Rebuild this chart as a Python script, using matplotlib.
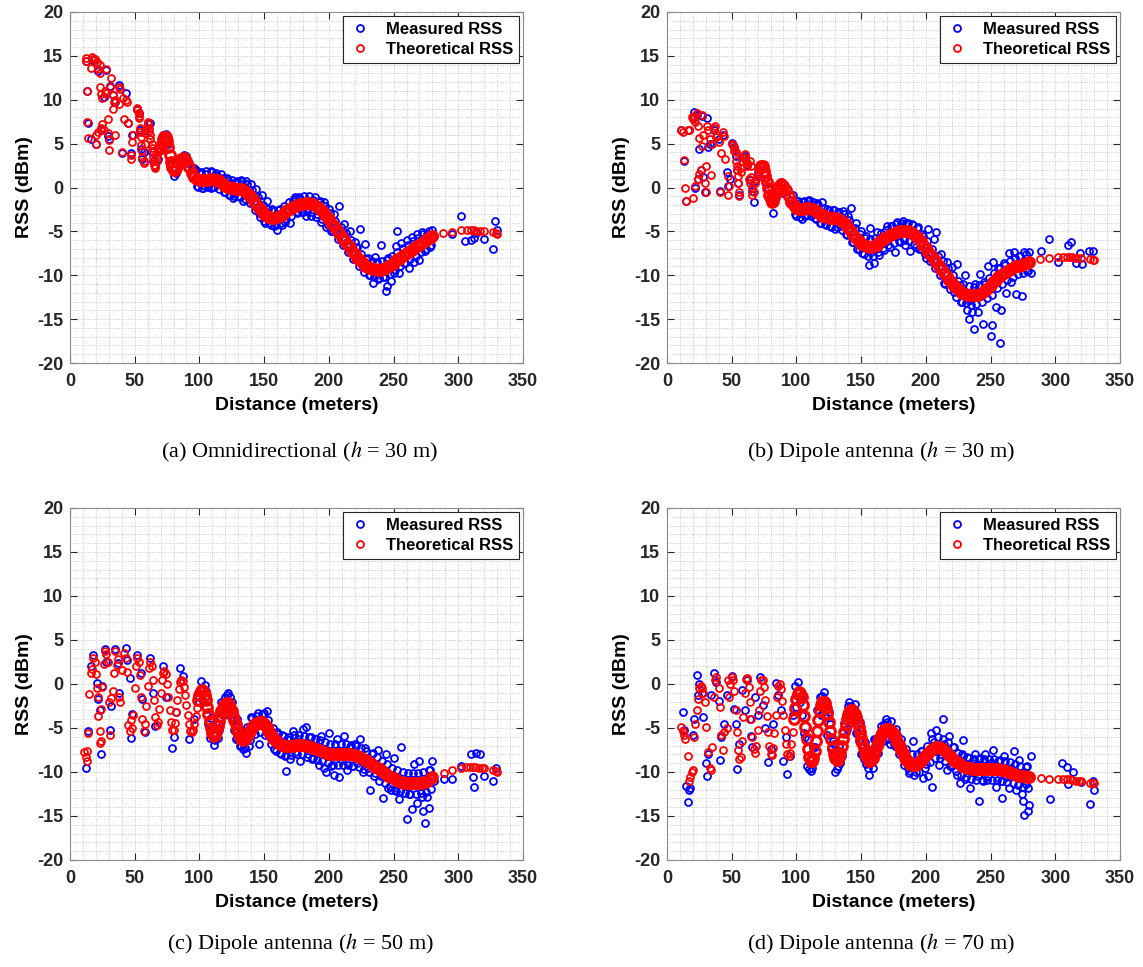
import matplotlib
matplotlib.use("Agg")
import matplotlib.pyplot as plt

plt.rcParams['font.family'] = ['Liberation Sans', 'DejaVu Sans']
plt.rcParams['mathtext.fontset'] = 'stix'
plt.rcParams['axes.unicode_minus'] = False

# ---------------- data ----------------
# (a) Omnidirectional, h = 30 m
a_theo_early = [(12, 14.8), (12, 14.4), (13, 11.0), (13, 7.5), (14, 5.6), (16, 13.6), (17, 14.9), (18, 14.6),
                (19, 14.6), (20, 5.0), (20, 6.0), (21, 14.3), (22, 13.5), (22, 6.3), (23, 14.0), (23, 13.0),
                (23, 11.5), (24, 6.8), (24, 10.7), (25, 7.2), (25, 10.2), (26, 6.5), (27, 11.0), (28, 13.5),
                (28, 10.8), (29, 7.8), (29, 6.2), (30, 4.3), (30, 5.4), (31, 11.5), (32, 12.5), (33, 9.0),
                (33, 10.5), (34, 9.8), (35, 6.0), (35, 10.0), (38, 11.5), (38, 9.5), (39, 11.2), (40, 4.0),
                (41, 10.2), (42, 7.8), (43, 10.0), (44, 9.8), (45, 7.4), (47, 3.3), (47, 3.7), (48, 5.2),
                (49, 6.0), (52, 9.1), (52, 8.8), (53, 8.5), (53, 8.2), (53, 7.9), (54, 6.8), (54, 6.3),
                (55, 5.8), (55, 4.8), (56, 4.2), (56, 3.5), (57, 3.0), (57, 2.8), (58, 5.0), (58, 6.2),
                (59, 6.7), (60, 7.5), (60, 7.2), (61, 6.8), (61, 6.4), (62, 6.0), (62, 5.5), (63, 5.0),
                (63, 4.5), (64, 4.0), (64, 3.5), (65, 3.0), (65, 2.6), (66, 2.4), (66, 2.2), (67, 3.0),
                (67, 3.5), (68, 4.0), (68, 4.5), (69, 4.2)]
a_theo_band = [(70, 4.5), (71, 5.0), (72, 5.5), (73, 5.8), (74, 5.8), (75, 5.3), (76, 4.6), (77, 3.7), (78, 2.9),
               (79, 2.3), (80, 2.0), (81, 2.0), (82, 2.2), (84, 2.8), (86, 3.2), (88, 3.4), (90, 3.0), (92, 2.3),
               (94, 1.7), (96, 1.2), (98, 1.0), (100, 0.9), (102, 0.8), (104, 0.85), (106, 0.9), (108, 1.0),
               (110, 1.0), (112, 0.9), (114, 0.8), (116, 0.6), (118, 0.4), (120, 0.2), (122, 0.1), (124, 0.0),
               (126, -0.1), (128, -0.2), (130, -0.2), (132, -0.2), (134, -0.3), (136, -0.5), (138, -0.8),
               (140, -1.1), (142, -1.5), (144, -1.9), (146, -2.3), (148, -2.7), (150, -3.0), (152, -3.2),
               (154, -3.4), (156, -3.5), (158, -3.5), (160, -3.4), (162, -3.3), (164, -3.1), (166, -2.8),
               (168, -2.6), (170, -2.4), (172, -2.2), (174, -2.1), (176, -2.0), (178, -1.9), (180, -1.9),
               (182, -1.8), (184, -1.8), (186, -1.9), (188, -1.9), (190, -2.1), (192, -2.3), (194, -2.6),
               (196, -2.9), (198, -3.2), (200, -3.6), (202, -4.0), (204, -4.4), (206, -4.8), (208, -5.2),
               (210, -5.6), (212, -6.0), (214, -6.4), (216, -6.8), (218, -7.2), (220, -7.6), (222, -8.0),
               (224, -8.3), (226, -8.6), (228, -8.9), (230, -9.05), (232, -9.15), (234, -9.25), (236, -9.3),
               (238, -9.35), (240, -9.35), (242, -9.3), (244, -9.2), (246, -9.0), (248, -8.8), (250, -8.6),
               (252, -8.3), (254, -8.1), (256, -7.9), (258, -7.7), (260, -7.5), (262, -7.3), (264, -7.1),
               (266, -6.9), (268, -6.7), (270, -6.5), (272, -6.3), (274, -6.1), (276, -5.9), (278, -5.7),
               (280, -5.5)]
a_theo_tail = [(288, -5.2), (295, -5.1), (302, -4.9), (307, -4.9), (310, -4.9), (312, -4.9), (314, -5.0),
               (317, -5.0), (320, -5.0), (327, -5.1), (329, -5.2), (330, -5.3)]
a_meas = [(12, 14.4), (13, 11.0), (14, 7.4), (16, 5.5), (18, 14.5), (20, 5.0), (22, 13.3), (24, 6.5), (26, 10.3),
          (28, 13.4), (29, 5.9), (30, 5.5), (31, 11.6), (33, 10.5), (35, 9.8), (38, 11.7), (40, 3.9), (43, 10.8),
          (45, 7.3), (47, 3.9), (48, 6.0), (52, 9.0), (53, 8.5), (54, 6.5), (55, 4.4), (56, 3.3), (57, 4.0),
          (58, 6.5), (60, 7.3), (62, 7.4), (63, 4.0), (64, 3.0), (66, 2.5), (68, 3.3), (70, 5.0), (72, 6.0),
          (74, 6.1), (76, 5.0), (78, 2.7), (80, 1.3), (82, 1.6), (84, 2.5), (88, 3.7), (90, 3.6), (92, 2.8),
          (94, 2.2), (96, 2.2), (98, 0.2), (100, 1.7), (102, 0.0), (104, 0.2), (105, 1.5), (107, 0.3), (109, 0.0),
          (110, 1.8), (112, 1.4), (114, 1.2), (116, 0.5), (118, 1.1), (120, -0.5), (122, 0.8), (124, -0.9),
          (126, -1.2), (128, 0.6), (130, -1.0), (132, 0.9), (134, -1.5), (136, 0.7), (138, -1.3), (140, 0.4),
          (142, -1.8), (144, -0.2), (146, -2.9), (148, -0.9), (150, -3.8), (152, -1.5), (154, -4.0), (156, -2.4),
          (158, -4.4), (160, -4.8), (162, -2.5), (164, -4.3), (166, -3.9), (168, -2.7), (170, -4.1), (172, -1.5),
          (174, -1.1), (176, -2.8), (178, -1.3), (180, -2.8), (182, -3.2), (184, -1.5), (186, -3.3), (188, -1.4),
          (190, -3.4), (192, -1.6), (194, -3.9), (196, -1.7), (198, -4.5), (200, -2.5), (202, -5.0), (204, -3.0),
          (206, -4.5), (208, -2.1), (210, -5.2), (212, -4.2), (214, -6.4), (216, -5.0), (218, -7.5), (220, -6.2),
          (222, -6.8), (224, -4.7), (226, -8.5), (228, -6.4), (230, -8.0), (232, -10.0), (234, -10.9), (236, -7.9),
          (238, -10.4), (240, -6.6), (242, -10.2), (244, -11.8), (245, -11.2), (246, -8.0), (248, -10.7),
          (250, -9.7), (252, -6.7), (253, -5.0), (254, -9.7), (256, -6.3), (258, -8.6), (260, -6.0), (262, -9.2),
          (264, -5.6), (266, -8.5), (268, -5.3), (270, -8.3), (272, -5.1), (274, -7.2), (276, -5.3), (278, -6.8),
          (280, -4.8), (281, -5.5), (295, -5.3), (302, -3.3), (305, -6.1), (310, -6.0), (312, -5.7), (314, -5.2),
          (320, -5.9), (327, -7.0), (328, -3.8), (330, -4.8)]
a_meas_near = [(97, 2.0), (99, 0.1), (101, 1.8), (103, 0.0), (105, 1.9), (107, 0.1), (109, 1.9), (111, 0.1),
               (113, 1.7), (115, -0.2), (117, 1.5), (119, -0.5), (121, 1.1), (123, -0.8), (125, 0.9), (127, -1.0),
               (129, 0.7), (131, -1.1), (133, 0.7), (135, -1.3), (137, 0.4), (139, -1.8), (141, -0.3), (143, -2.6),
               (145, -1.1), (147, -3.4), (149, -2.0), (151, -4.0), (153, -2.4), (155, -4.3), (157, -2.7),
               (159, -4.3), (161, -2.6), (163, -4.1), (165, -2.1), (167, -3.6), (169, -1.6), (171, -3.2),
               (173, -1.3), (175, -2.9), (177, -1.1), (179, -2.8), (181, -1.0), (183, -2.7), (185, -1.0),
               (187, -2.8), (189, -1.1), (191, -3.0), (193, -1.5), (195, -3.6), (197, -2.1), (199, -4.3),
               (201, -2.9), (203, -5.0), (205, -3.8), (207, -5.9), (209, -4.5), (211, -6.6), (213, -5.2),
               (215, -7.4), (217, -6.0), (219, -8.2), (221, -6.8), (223, -9.0), (225, -7.6), (227, -9.6),
               (229, -8.1), (231, -10.0), (233, -8.4), (235, -10.2), (237, -8.5), (239, -10.3), (241, -8.4),
               (243, -10.2), (245, -8.3), (247, -9.9), (249, -7.8), (251, -9.4), (253, -7.3), (255, -8.9),
               (257, -6.9), (259, -8.6), (261, -6.5), (263, -8.2), (265, -6.1), (267, -7.8), (269, -5.7),
               (271, -7.4), (273, -5.3), (275, -7.0), (277, -5.0), (279, -6.5)]

# (b) Dipole antenna, h = 30 m
b_theo_early = [(11, 6.6), (12, 6.3), (13, 3.1), (14, 0.0), (15, -1.5), (16, 6.5), (17, 6.6), (19, 8.0), (20, 7.8),
                (20, -1.2), (21, 8.2), (22, 7.5), (22, 0.2), (23, 8.5), (24, 7.0), (24, 1.0), (25, 5.6), (25, 1.5),
                (26, 2.0), (27, 8.3), (27, 4.7), (28, 6.0), (29, 0.5), (30, 2.5), (30, -0.5), (31, 7.0), (32, 6.5),
                (33, 5.5), (34, 1.4), (35, 5.0), (36, 6.8), (37, 7.0), (38, 5.8), (39, 6.0), (40, 5.2), (41, -0.5),
                (42, 3.9), (43, 6.3), (44, 5.9), (45, 3.3), (47, 1.3), (47, -0.8), (48, 0.2), (50, 5.0), (51, 4.8),
                (52, 4.5), (52, 4.2), (53, 4.0), (53, 3.0), (54, 2.5), (54, 2.0), (55, 1.3), (55, 0.5), (56, -0.5),
                (56, -1.0), (57, 1.8), (57, 2.2), (58, 3.0), (59, 3.5), (60, 3.8), (60, 3.4), (61, 3.0), (62, 2.8),
                (62, 2.5), (63, 1.0), (64, 0.5), (64, 3.0), (65, 2.5), (65, 1.2), (66, 0.0), (66, -0.8), (67, -0.5),
                (68, 0.5), (69, 1.0), (70, 1.5), (71, 2.0)]
b_theo_band = [(72, 2.2), (73, 2.4), (74, 2.4), (75, 1.9), (76, 1.3), (77, 0.6), (78, -0.1), (79, -0.8), (80, -1.3),
               (81, -1.6), (82, -1.5), (83, -1.1), (84, -0.6), (85, -0.2), (86, 0.1), (88, 0.4), (90, 0.2),
               (92, -0.3), (94, -1.0), (96, -1.6), (98, -2.0), (100, -2.3), (102, -2.5), (104, -2.5), (106, -2.4),
               (108, -2.3), (110, -2.3), (112, -2.4), (114, -2.6), (116, -2.8), (118, -3.0), (120, -3.2),
               (122, -3.3), (124, -3.4), (126, -3.5), (128, -3.5), (130, -3.5), (132, -3.6), (134, -3.7),
               (136, -3.9), (138, -4.2), (140, -4.6), (142, -5.0), (144, -5.4), (146, -5.8), (148, -6.1),
               (150, -6.4), (152, -6.6), (154, -6.7), (156, -6.8), (158, -6.8), (160, -6.7), (162, -6.5),
               (164, -6.2), (166, -6.0), (168, -5.8), (170, -5.6), (172, -5.4), (174, -5.3), (176, -5.2),
               (178, -5.1), (180, -5.0), (182, -5.0), (184, -5.0), (186, -5.0), (188, -5.1), (190, -5.3),
               (192, -5.5), (194, -5.8), (196, -6.1), (198, -6.5), (200, -6.9), (202, -7.3), (204, -7.7),
               (206, -8.1), (208, -8.5), (210, -8.9), (212, -9.3), (214, -9.7), (216, -10.1), (218, -10.5),
               (220, -10.9), (222, -11.2), (224, -11.5), (226, -11.8), (228, -12.0), (230, -12.1), (232, -12.2),
               (234, -12.3), (236, -12.3), (238, -12.3), (240, -12.2), (242, -12.1), (244, -11.9), (246, -11.7),
               (248, -11.4), (250, -11.1), (252, -10.8), (254, -10.5), (256, -10.2), (258, -10.0), (260, -9.8),
               (262, -9.6), (264, -9.4), (266, -9.3), (268, -9.1), (270, -9.0), (272, -8.9), (274, -8.8),
               (276, -8.7), (278, -8.6), (280, -8.5)]
b_theo_tail = [(288, -8.2), (295, -8.0), (302, -7.9), (306, -7.9), (309, -7.9), (311, -7.9), (313, -7.9),
               (315, -8.0), (317, -8.0), (320, -8.0), (327, -8.2), (329, -8.3), (330, -8.3)]
b_meas = [(11, 6.5), (13, 3.0), (15, -1.5), (17, 6.5), (20, 7.9), (21, 8.6), (22, 0.0), (23, 8.3), (24, 1.0),
          (25, 4.4), (26, 2.0), (27, 8.2), (28, 1.2), (29, -0.5), (31, 7.9), (32, 4.6), (33, 5.0), (36, 6.6),
          (40, 5.5), (41, -0.4), (43, 6.0), (46, 1.8), (47, 0.2), (49, 1.0), (50, 5.1), (52, 4.6), (53, 3.6),
          (54, 2.0), (55, 0.5), (56, -0.9), (58, 3.5), (60, 3.6), (62, 2.6), (64, 0.8), (66, -0.4), (67, -1.7),
          (68, 0.7), (70, 1.8), (72, 2.5), (74, 2.6), (76, 1.5), (78, 0.0), (80, -1.7), (82, -2.9), (85, -0.4),
          (88, 0.6), (90, -0.6), (95, -1.4), (100, -3.3), (102, -1.8), (104, -3.6), (106, -1.5), (108, -3.1),
          (110, -1.4), (112, -2.0), (114, -3.5), (116, -1.8), (118, -4.0), (120, -1.6), (122, -4.2), (124, -2.4),
          (126, -4.4), (128, -2.6), (130, -4.7), (132, -2.8), (134, -4.4), (136, -2.7), (138, -5.3), (140, -3.2),
          (142, -2.3), (144, -6.2), (146, -4.0), (148, -7.0), (150, -5.0), (152, -7.6), (154, -5.5), (156, -8.8),
          (157, -4.6), (158, -7.3), (160, -8.6), (162, -5.1), (164, -7.7), (166, -5.6), (168, -7.1), (170, -4.4),
          (172, -6.8), (174, -4.4), (176, -7.4), (178, -3.9), (180, -6.2), (182, -3.8), (184, -6.6), (186, -4.1),
          (188, -7.2), (190, -4.3), (192, -6.8), (194, -4.5), (196, -7.0), (198, -5.5), (200, -8.0), (202, -4.7),
          (204, -7.6), (206, -5.9), (208, -5.1), (210, -9.1), (212, -7.6), (214, -10.9), (216, -8.5), (218, -10.8),
          (220, -9.1), (222, -11.9), (224, -8.7), (226, -11.1), (228, -13.1), (230, -10.0), (232, -14.0),
          (233, -15.0), (234, -12.8), (236, -14.2), (237, -16.1), (238, -11.0), (240, -14.2), (242, -9.9),
          (244, -15.5), (246, -11.0), (248, -9.0), (250, -16.9), (251, -15.7), (252, -8.5), (254, -13.6),
          (256, -9.2), (257, -17.7), (258, -14.0), (260, -8.6), (262, -12.0), (264, -7.5), (266, -10.8),
          (268, -7.3), (270, -12.1), (272, -7.8), (274, -12.4), (276, -7.3), (278, -9.5), (280, -7.4),
          (281, -9.8), (289, -7.2), (295, -5.9), (302, -8.5), (310, -6.6), (312, -6.2), (316, -8.6), (319, -7.5),
          (321, -8.7), (326, -7.2), (329, -7.2)]
b_meas_near = [(97, -0.8), (99, -3.0), (101, -1.5), (103, -3.4), (105, -1.6), (107, -3.3), (109, -1.5),
               (111, -3.2), (113, -1.6), (115, -3.6), (117, -2.0), (119, -4.0), (121, -2.3), (123, -4.3),
               (125, -2.6), (127, -4.5), (129, -2.6), (131, -4.5), (133, -2.8), (135, -4.8), (137, -3.0),
               (139, -5.4), (141, -3.7), (143, -6.2), (145, -4.6), (147, -7.0), (149, -5.3), (151, -7.5),
               (153, -5.7), (155, -7.8), (157, -5.9), (159, -7.8), (161, -5.7), (163, -7.4), (165, -5.2),
               (167, -6.9), (169, -4.8), (171, -6.5), (173, -4.4), (175, -6.3), (177, -4.2), (179, -6.1),
               (181, -4.0), (183, -6.0), (185, -4.0), (187, -6.1), (189, -4.2), (191, -6.4), (193, -4.6),
               (195, -7.0), (197, -5.3), (199, -7.6), (201, -6.1), (203, -8.4), (205, -7.0), (207, -9.2),
               (209, -7.8), (211, -10.0), (213, -8.4), (215, -11.0), (217, -9.2), (219, -11.6), (221, -10.0),
               (223, -12.5), (225, -10.6), (227, -13.0), (229, -11.0), (231, -13.2), (233, -11.2), (235, -13.4),
               (237, -11.3), (239, -13.3), (241, -11.1), (243, -13.1), (245, -10.8), (247, -12.6), (249, -10.3),
               (251, -12.2), (253, -9.7), (255, -11.5), (257, -9.2), (259, -11.0), (261, -8.8), (263, -10.5),
               (265, -8.4), (267, -10.2), (269, -8.0), (271, -9.9), (273, -7.8), (275, -9.7), (277, -7.6),
               (279, -9.5)]

# (c) Dipole antenna, h = 50 m
c_theo_early = [(11, -7.7), (12, -8.3), (13, -8.7), (13, -7.6), (14, -5.6), (15, -1.1), (16, 1.3), (17, 1.7),
                (18, 2.9), (19, 2.5), (20, 1.1), (21, -0.4), (22, -1.5), (22, -3.6), (23, -5.3), (23, -6.7),
                (24, -6.5), (24, -2.8), (25, -0.3), (26, 2.3), (27, 3.7), (28, 3.4), (29, 2.5), (30, -2.0),
                (31, -5.8), (32, -1.6), (33, -0.8), (34, 1.3), (35, 3.8), (36, 2.2), (37, 2.8), (38, -1.5),
                (39, -2.1), (40, 1.6), (42, 3.5), (43, 3.0), (44, 1.4), (45, -4.7), (46, -5.3), (47, -4.1),
                (48, -5.0), (49, -3.5), (50, -0.5), (51, 2.0), (52, 3.0), (53, 2.5), (54, 1.0), (55, -1.5),
                (56, -4.0), (57, -5.3), (58, -4.5), (59, -2.5), (60, -0.2), (61, 1.8), (62, 2.5), (63, 2.0),
                (64, 0.5), (65, -1.8), (66, -3.8), (67, -4.7), (68, -4.3), (69, -2.8), (70, -1.0), (71, 0.5),
                (72, 1.3), (73, 1.5), (74, 1.1), (75, 0.0), (76, -1.5), (77, -3.0), (78, -4.3), (79, -5.2),
                (80, -5.2), (81, -4.4), (82, -3.2), (83, -1.8), (84, -0.6), (85, 0.2), (86, 0.5), (87, 0.3),
                (88, -0.3), (89, -1.3), (90, -2.4), (91, -3.5), (92, -4.6), (93, -5.3), (94, -5.5), (95, -5.2),
                (96, -4.5), (97, -3.6), (98, -2.7)]
c_theo_band = [(99, -1.8), (100, -1.2), (101, -0.8), (102, -0.7), (103, -0.8),
               (104, -1.2), (105, -1.8), (106, -2.6), (107, -3.4), (108, -4.2), (109, -5.0), (110, -5.6),
               (111, -5.9), (112, -5.8), (113, -5.4), (114, -4.8), (115, -4.2), (116, -3.6), (117, -3.1),
               (118, -2.7), (119, -2.4), (120, -2.3), (121, -2.2), (122, -2.2), (123, -2.4), (124, -2.7),
               (125, -3.1), (126, -3.6), (127, -4.1), (128, -4.6), (129, -5.1), (130, -5.5), (131, -5.9),
               (132, -6.2), (133, -6.3), (134, -6.4), (135, -6.3), (136, -6.1), (137, -5.9), (138, -5.6),
               (139, -5.3), (140, -5.1), (141, -4.9), (142, -4.7), (143, -4.6), (144, -4.5), (145, -4.4),
               (146, -4.3), (147, -4.3), (148, -4.3), (149, -4.4), (150, -4.5), (151, -4.7), (152, -4.9),
               (153, -5.2), (154, -5.4), (155, -5.7), (156, -5.9), (157, -6.1), (158, -6.3), (159, -6.5),
               (160, -6.6), (162, -6.8), (164, -6.9), (166, -7.0), (168, -7.0), (170, -7.0), (172, -7.0),
               (174, -6.9), (176, -6.9), (178, -6.9), (180, -6.9), (182, -7.0), (184, -7.1), (186, -7.2),
               (188, -7.3), (190, -7.4), (192, -7.5), (194, -7.6), (196, -7.7), (198, -7.8), (200, -7.9),
               (202, -8.0), (204, -8.0), (206, -8.0), (208, -8.0), (210, -8.0), (212, -8.0), (214, -8.0),
               (216, -8.0), (218, -8.1), (220, -8.1), (222, -8.2), (224, -8.3), (226, -8.5), (228, -8.6),
               (230, -8.8), (232, -9.0), (234, -9.2), (236, -9.4), (238, -9.6), (240, -9.8), (242, -10.0),
               (244, -10.2), (246, -10.4), (248, -10.6), (250, -10.7), (252, -10.9), (254, -11.0), (256, -11.1),
               (258, -11.2), (260, -11.2), (262, -11.3), (264, -11.3), (266, -11.3), (268, -11.3), (270, -11.2),
               (272, -11.2), (274, -11.1), (276, -11.0), (278, -10.8), (280, -10.6)]
c_theo_tail = [(289, -10.1), (295, -9.8), (302, -9.5), (306, -9.4), (309, -9.4), (311, -9.4), (313, -9.4),
               (316, -9.5), (318, -9.5), (320, -9.6), (327, -9.8), (329, -9.9), (330, -10.0)]
c_meas = [(12, -9.5), (14, -5.3), (16, 2.1), (18, 3.3), (21, 0.1), (22, -1.7), (23, -3.0), (24, -8.0), (25, -0.2),
          (27, 4.0), (28, 2.5), (31, -5.2), (32, -2.5), (35, 4.0), (37, 2.4), (38, -1.0), (43, 4.1), (44, 2.7),
          (46, 0.7), (47, -6.1), (48, -3.4), (52, 3.3), (55, 1.2), (56, -1.7), (58, -5.5), (62, 2.9), (64, -1.0),
          (66, -4.8), (72, 2.0), (74, -1.5), (79, -7.3), (80, -6.0), (82, -3.2), (85, 1.8), (87, 0.9), (92, -6.2),
          (96, -4.0), (100, -2.1), (104, -0.1), (106, -3.5), (108, -6.1), (112, -6.4), (114, -6.1), (118, -3.5),
          (120, -1.5), (122, -1.0), (124, -1.5), (126, -4.1), (128, -6.3), (130, -6.4), (132, -7.0), (134, -7.4),
          (136, -7.8), (138, -7.0), (140, -3.7), (142, -4.7), (144, -3.6), (146, -6.8), (148, -3.4), (150, -3.3),
          (152, -3.1), (154, -5.9), (156, -6.0), (158, -7.4), (160, -5.5), (162, -7.8), (164, -5.8), (166, -8.2),
          (167, -9.9), (168, -6.3), (170, -8.5), (172, -5.3), (174, -7.7), (176, -6.2), (178, -8.7), (180, -5.1),
          (182, -4.9), (184, -8.0), (186, -6.0), (188, -8.4), (190, -6.3), (192, -9.2), (194, -5.9), (196, -9.5),
          (198, -10.0), (200, -5.6), (202, -9.3), (204, -10.3), (206, -6.2), (208, -10.6), (210, -8.6),
          (212, -5.9), (214, -9.8), (216, -7.2), (218, -9.3), (220, -6.8), (222, -9.0), (224, -6.2), (226, -10.0),
          (228, -7.3), (230, -9.6), (232, -12.1), (234, -7.8), (236, -10.1), (238, -7.5), (240, -10.5),
          (242, -13.0), (244, -8.0), (246, -11.8), (248, -12.0), (250, -8.4), (252, -12.2), (254, -13.1),
          (256, -7.2), (258, -11.5), (260, -15.3), (262, -12.5), (264, -14.2), (266, -9.1), (268, -13.5),
          (270, -8.8), (272, -12.8), (273, -14.4), (274, -15.8), (276, -12.8), (277, -14.1), (278, -9.8),
          (280, -8.7), (281, -11.0), (289, -10.8), (295, -10.8), (302, -9.3), (310, -8.0), (311, -10.6),
          (312, -11.7), (314, -7.8), (317, -7.9), (320, -10.4), (327, -11.0), (329, -9.5)]
c_meas_near = [(101, 0.3), (103, -1.9), (105, -0.8), (107, -4.5), (109, -3.9), (111, -6.9), (113, -4.3),
               (115, -5.2), (117, -2.0), (119, -3.4), (121, -1.2), (123, -3.5), (125, -2.0), (127, -5.2),
               (129, -4.0), (131, -7.0), (133, -5.2), (135, -7.3), (137, -4.9), (139, -6.4), (141, -3.9),
               (143, -5.7), (145, -3.3), (147, -5.4), (149, -3.4), (151, -5.8), (153, -4.1), (155, -6.8),
               (157, -5.0), (159, -7.6), (161, -5.7), (163, -8.0), (165, -5.9), (167, -8.1), (169, -6.0),
               (171, -8.1), (173, -5.8), (175, -8.0), (177, -5.8), (179, -8.0), (181, -5.9), (183, -8.3),
               (185, -6.0), (187, -8.5), (189, -6.2), (191, -8.6), (193, -6.4), (195, -8.8), (197, -6.6),
               (199, -9.0), (201, -6.8), (203, -9.2), (205, -6.8), (207, -9.2), (209, -6.8), (211, -9.2),
               (213, -6.8), (215, -9.2), (217, -6.9), (219, -9.3), (221, -7.0), (223, -9.4), (225, -7.3),
               (227, -9.7), (229, -7.6), (231, -10.0), (233, -8.0), (235, -10.4), (237, -8.3), (239, -11.0),
               (241, -8.7), (243, -11.3), (245, -9.1), (247, -11.6), (249, -9.5), (251, -12.0), (253, -9.8),
               (255, -12.2), (257, -10.0), (259, -12.4), (261, -10.1), (263, -12.5), (265, -10.1), (267, -12.5),
               (269, -10.1), (271, -12.4), (273, -10.0), (275, -12.3), (277, -9.8), (279, -11.9)]

# (d) Dipole antenna, h = 70 m
d_theo_early = [(11, -4.9), (12, -5.3), (13, -5.8), (14, -6.2), (16, -8.2), (17, -11.0), (18, -10.6), (19, -10.0),
                (20, -9.8), (21, -6.0), (22, -4.6), (23, -3.0), (24, -1.7), (25, -0.5), (26, -0.2), (27, -0.5),
                (28, -1.0), (29, -2.0), (30, -4.9), (32, -7.7), (33, -9.6), (34, -9.8), (35, -7.2), (36, -1.5),
                (37, 0.5), (38, 0.8), (40, -0.5), (41, -2.6), (42, -5.8), (43, -7.5), (44, -5.5), (46, -5.0),
                (47, 0.4), (48, -1.5), (49, 0.0), (50, 0.8), (51, 0.5), (52, -0.8), (53, -3.0), (54, -5.5),
                (55, -7.5), (56, -8.5), (57, -8.3), (58, -6.5), (59, -3.8), (60, -1.0), (61, 0.6), (62, 0.7),
                (63, -0.3), (64, -2.0), (65, -4.0), (66, -6.0), (67, -7.4), (68, -7.8), (69, -7.0), (70, -5.2),
                (71, -3.0), (72, -0.8), (73, 0.4), (74, 0.5), (75, -0.3), (76, -1.8), (77, -3.6), (78, -5.5),
                (79, -7.0), (80, -8.0), (81, -8.1), (82, -7.3), (83, -5.6), (84, -3.5), (85, -1.5), (86, -0.2),
                (87, 0.0), (88, -0.6), (89, -1.9), (90, -3.5), (91, -5.2), (92, -6.8), (93, -7.9), (94, -8.2),
                (95, -7.8), (96, -6.8), (97, -5.4)]
d_theo_band = [(98, -4.0), (99, -2.7), (100, -1.7), (101, -1.1), (102, -0.9), (103, -1.0),
               (104, -1.5), (105, -2.4), (106, -3.6), (107, -4.9), (108, -6.2), (109, -7.4), (110, -8.3),
               (111, -8.8), (112, -8.8), (113, -8.4), (114, -7.6), (115, -6.5), (116, -5.3), (117, -4.1),
               (118, -3.1), (119, -2.4), (120, -2.1), (121, -2.0), (122, -2.2), (123, -2.7), (124, -3.4),
               (125, -4.3), (126, -5.3), (127, -6.3), (128, -7.2), (129, -7.9), (130, -8.4), (131, -8.6),
               (132, -8.6), (133, -8.3), (134, -7.8), (135, -7.1), (136, -6.3), (137, -5.5), (138, -4.7),
               (139, -4.0), (140, -3.5), (141, -3.2), (142, -3.0), (143, -3.0), (144, -3.1), (145, -3.4),
               (146, -3.8), (147, -4.3), (148, -4.9), (149, -5.5), (150, -6.1), (151, -6.7), (152, -7.3),
               (153, -7.8), (154, -8.2), (155, -8.5), (156, -8.7), (157, -8.7), (158, -8.6), (159, -8.4),
               (160, -8.0), (161, -7.6), (162, -7.1), (163, -6.7), (164, -6.3), (165, -5.9), (166, -5.6),
               (167, -5.4), (168, -5.2), (169, -5.1), (170, -5.1), (171, -5.1), (172, -5.2), (173, -5.3),
               (174, -5.5), (175, -5.7), (176, -6.0), (177, -6.3), (178, -6.6), (179, -6.9), (180, -7.2),
               (181, -7.5), (182, -7.8), (183, -8.1), (184, -8.4), (185, -8.6), (186, -8.8), (187, -9.0),
               (188, -9.1), (189, -9.2), (190, -9.2), (192, -9.2), (194, -9.0), (196, -8.7), (198, -8.4),
               (200, -8.1), (202, -7.8), (204, -7.5), (206, -7.3), (208, -7.2), (210, -7.2), (212, -7.3),
               (214, -7.5), (216, -7.8), (218, -8.1), (220, -8.4), (222, -8.7), (224, -8.9), (226, -9.1),
               (228, -9.3), (230, -9.4), (232, -9.5), (234, -9.6), (236, -9.7), (238, -9.7), (240, -9.7),
               (242, -9.7), (244, -9.7), (246, -9.7), (248, -9.7), (250, -9.7), (252, -9.7), (254, -9.7),
               (256, -9.7), (258, -9.8), (260, -9.8), (262, -9.9), (264, -10.0), (266, -10.1), (268, -10.2),
               (270, -10.3), (272, -10.4), (274, -10.5), (276, -10.5), (278, -10.6), (280, -10.6)]
d_theo_tail = [(289, -10.7), (295, -10.8), (302, -10.8), (306, -10.8), (309, -10.8), (311, -10.8), (313, -10.9),
               (316, -11.0), (318, -11.0), (320, -11.0), (327, -11.2), (329, -11.3), (330, -11.3)]
d_meas = [(12, -3.2), (13, -5.2), (15, -11.6), (16, -13.4), (17, -12.0), (18, -11.8), (20, -5.8), (21, -4.0),
          (23, 1.0), (24, -1.3), (25, 0.0), (27, -1.0), (28, -3.8), (30, -9.0), (31, -10.4), (32, -8.0),
          (34, -1.3), (36, 1.3), (38, 0.2), (40, -1.9), (41, -8.6), (42, -6.0), (44, -4.5), (46, -1.2), (50, 0.9),
          (52, -2.8), (53, -4.5), (54, -9.7), (56, -6.8), (58, -0.7), (60, -3.0), (62, 0.5), (64, -4.0),
          (65, -5.9), (66, -7.2), (68, -1.5), (70, -3.5), (72, 0.8), (74, -2.4), (76, -5.0), (78, -8.9),
          (80, -7.4), (82, -4.5), (84, 0.1), (86, -1.2), (88, -3.0), (90, -8.7), (92, -6.0), (93, -10.2),
          (95, -8.2), (97, -3.5), (99, -0.2), (100, -2.6), (104, -3.5), (106, -5.6), (108, -9.3), (110, -9.7),
          (112, -9.5), (114, -7.2), (116, -3.0), (118, -1.5), (120, -1.4), (122, -1.8), (124, -5.8), (126, -4.5),
          (128, -6.5), (130, -10.0), (132, -9.3), (134, -9.0), (136, -5.6), (138, -3.5), (140, -2.5), (142, -2.5),
          (144, -4.0), (146, -5.6), (148, -6.5), (150, -7.9), (152, -8.5), (154, -9.1), (156, -10.3), (158, -8.5),
          (160, -6.2), (162, -7.1), (164, -6.6), (166, -5.8), (168, -4.5), (170, -4.3), (172, -6.8), (174, -6.1),
          (176, -7.0), (178, -5.8), (180, -6.7), (182, -7.7), (184, -8.5), (186, -9.5), (188, -9.9), (190, -6.5),
          (192, -10.0), (194, -8.6), (196, -7.6), (198, -10.7), (200, -9.1), (202, -10.4), (204, -5.6),
          (205, -11.7), (206, -6.6), (208, -5.2), (210, -9.2), (212, -8.0), (213, -4.0), (214, -6.8), (216, -9.8),
          (218, -5.9), (220, -9.2), (222, -7.2), (224, -10.3), (226, -11.2), (228, -8.0), (229, -6.4),
          (230, -10.8), (232, -8.3), (234, -11.8), (236, -9.0), (238, -7.9), (240, -10.4), (241, -13.3),
          (242, -8.4), (244, -11.0), (246, -8.0), (248, -10.5), (250, -9.0), (252, -7.5), (254, -11.7),
          (256, -8.7), (258, -11.0), (259, -13.0), (260, -8.2), (262, -10.6), (264, -11.8), (266, -9.6),
          (268, -7.6), (270, -12.0), (272, -8.6), (274, -12.5), (275, -13.3), (276, -14.9), (277, -11.4),
          (278, -9.3), (279, -14.4), (280, -13.8), (281, -8.2), (296, -13.1), (305, -9.0), (309, -9.4),
          (310, -11.4), (314, -10.0), (320, -11.1), (327, -13.6), (329, -11.0), (330, -12.0)]
d_meas_near = [(101, 0.2), (103, -2.1), (105, -1.2), (107, -6.0), (109, -6.2), (111, -9.9), (113, -7.2),
               (115, -7.6), (117, -2.9), (119, -3.5), (121, -0.9), (123, -3.8), (125, -3.2), (127, -7.4),
               (129, -6.8), (131, -9.7), (133, -7.2), (135, -8.2), (137, -4.4), (139, -5.1), (141, -2.1),
               (143, -4.1), (145, -2.3), (147, -5.4), (149, -4.3), (151, -7.8), (153, -6.6), (155, -9.6),
               (157, -7.5), (159, -9.5), (161, -6.4), (163, -7.8), (165, -4.8), (167, -6.5), (169, -4.0),
               (171, -6.2), (173, -4.2), (175, -6.8), (177, -5.1), (179, -8.0), (181, -6.3), (183, -9.2),
               (185, -7.4), (187, -10.1), (189, -8.0), (191, -10.3), (193, -8.0), (195, -10.0), (197, -7.6),
               (199, -9.5), (201, -7.0), (203, -8.9), (205, -6.3), (207, -8.4), (209, -6.0), (211, -8.4),
               (213, -6.2), (215, -8.7), (217, -6.6), (219, -9.3), (221, -7.2), (223, -9.9), (225, -7.8),
               (227, -10.3), (229, -8.2), (231, -10.6), (233, -8.4), (235, -10.8), (237, -8.5), (239, -10.9),
               (241, -8.5), (243, -10.9), (245, -8.5), (247, -10.9), (249, -8.5), (251, -10.9), (253, -8.5),
               (255, -10.9), (257, -8.6), (259, -11.0), (261, -8.7), (263, -11.1), (265, -8.9), (267, -11.3),
               (269, -9.1), (271, -11.5), (273, -9.3), (275, -11.7), (277, -9.4), (279, -11.8)]

captions = ["(a) Omnidirectional ($h$ = 30 m)", "(b) Dipole antenna ($h$ = 30 m)",
            "(c) Dipole antenna ($h$ = 50 m)", "(d) Dipole antenna ($h$ = 70 m)"]

# axes boxes in pixels: left, top, right, bottom (figure is 1143 x 967)
boxes = [(70, 12, 523, 363), (667, 12, 1120, 363), (70, 508, 523, 860), (667, 508, 1120, 860)]
caption_pos = [(300, 452), (881, 452), (300, 943), (881, 943)]

panels = [
    (a_meas + a_meas_near, a_theo_early + a_theo_tail, a_theo_band),
    (b_meas + b_meas_near, b_theo_early + b_theo_tail, b_theo_band),
    (c_meas + c_meas_near, c_theo_early + c_theo_tail, c_theo_band),
    (d_meas + d_meas_near, d_theo_early + d_theo_tail, d_theo_band),
]

W, H = 1143, 967
fig = plt.figure(figsize=(W / 100, H / 100), dpi=100)

for (meas, theo, band), (l, t, r, b), cap, (cx, cy) in zip(panels, boxes, captions, caption_pos):
    ax = fig.add_axes([l / W, 1 - b / H, (r - l) / W, (b - t) / H])
    mx, my = zip(*meas)
    tx, ty = zip(*theo)
    bx, by = zip(*band)
    ax.plot(mx, my, 'o', ls='none', mfc='none', mec='#0000ff', ms=5, mew=1.3, label='Measured RSS')
    ax.plot(tx, ty, 'o', ls='none', mfc='none', mec='#ff0000', ms=5, mew=1.3, label='Theoretical RSS')
    # densely packed theoretical samples merge into a thick red stroke
    ax.plot(bx, by, 'o', ls='none', mfc='none', mec='#ff0000', ms=7, mew=2.2)

    ax.set_xlim(0, 350)
    ax.set_ylim(-20, 20)
    ax.set_xticks(range(0, 351, 50))
    ax.set_yticks(range(-20, 21, 5))
    ax.set_xticks(range(0, 351, 10), minor=True)
    ax.set_yticks(range(-20, 21, 1), minor=True)
    ax.tick_params(which='both', direction='in', top=True, right=True, colors='#262626')
    ax.tick_params(which='major', length=5, labelsize=13)
    ax.tick_params(axis='x', which='major', pad=7)
    ax.tick_params(axis='y', which='major', pad=5)
    ax.tick_params(which='minor', length=0)
    for lbl in ax.get_xticklabels() + ax.get_yticklabels():
        lbl.set_fontweight('bold')
    ax.grid(which='both', ls=':', color='#bdbdbd', lw=0.6)
    for sp in ax.spines.values():
        sp.set_color('#8a8a8a')
        sp.set_linewidth(0.8)

    ax.set_xlabel('Distance (meters)', fontsize=14, fontweight='bold', labelpad=5)
    ax.set_ylabel('RSS (dBm)', fontsize=14, fontweight='bold', labelpad=3)
    leg = ax.legend(loc='upper right', prop={'weight': 'bold', 'size': 12},
                    fancybox=False, framealpha=1, edgecolor='#262626', borderaxespad=0.25,
                    handletextpad=0.9, borderpad=0.35, labelspacing=0.3, handlelength=1.3)
    leg.get_frame().set_linewidth(0.8)

    fig.text(cx / W, 1 - cy / H, cap, ha='center', va='center', fontsize=16,
             family=['Liberation Serif', 'DejaVu Serif'])

fig.savefig('out.png', dpi=100)
